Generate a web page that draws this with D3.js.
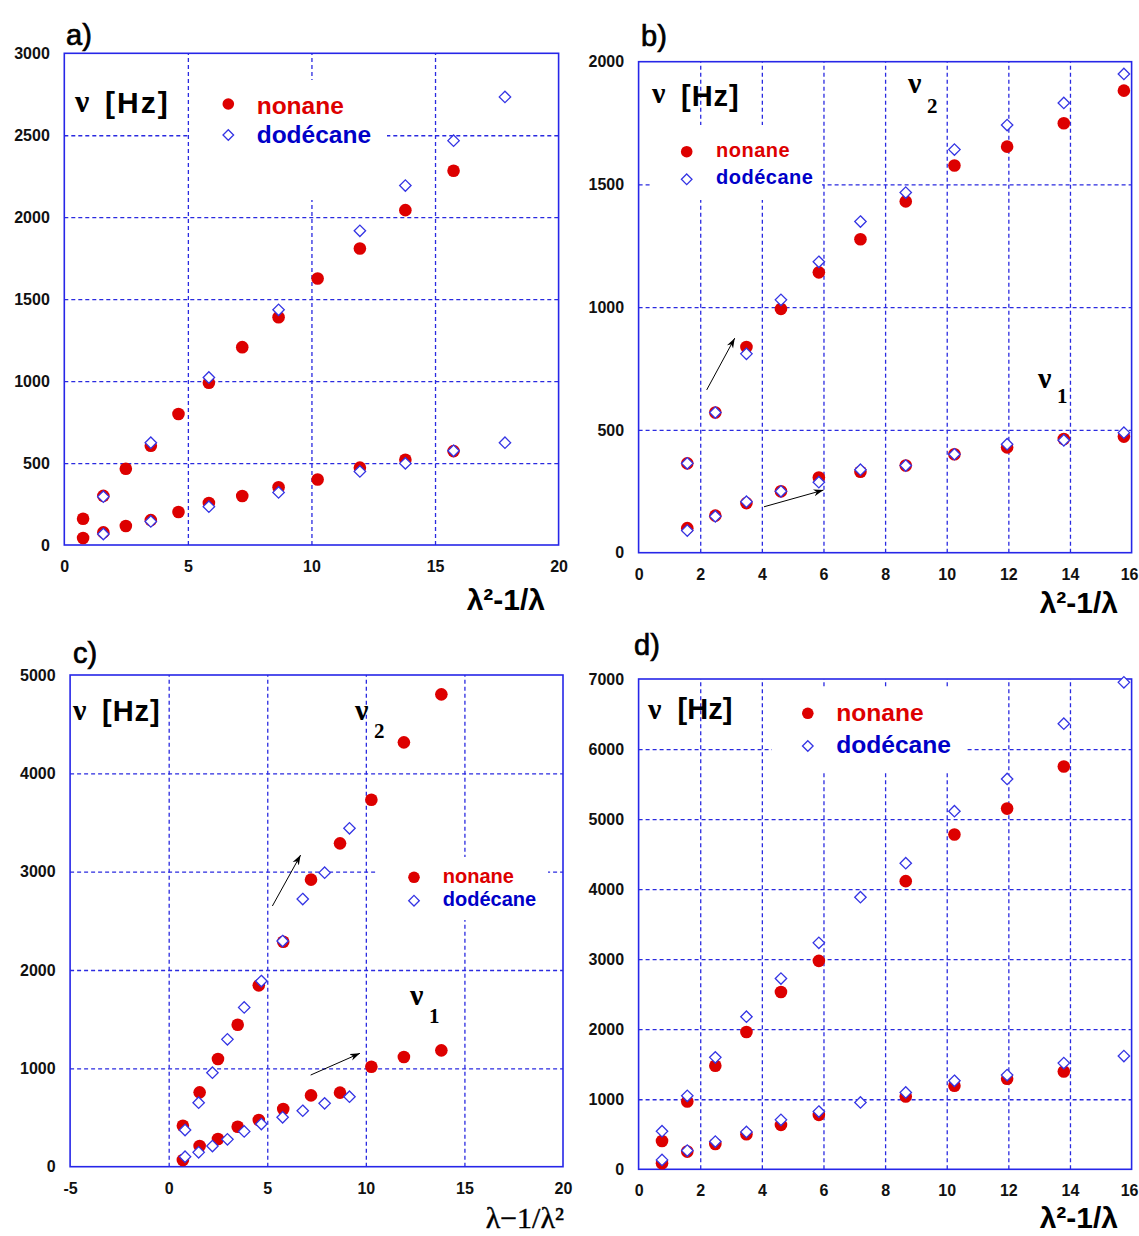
<!DOCTYPE html>
<html><head><meta charset="utf-8">
<script src="https://cdn.jsdelivr.net/npm/d3@7"></script>
<style>body{margin:0;background:#fff} svg{display:block}</style>
</head><body>
<svg id="chart" width="1139" height="1236"></svg>
<script>
// ---------- DATA ----------
// panel a
const aXTicks = [0, 5, 10, 15, 20];
const aYTicks = [0, 500, 1000, 1500, 2000, 2500, 3000];
const aNonaneX = [0.76, 1.58, 2.49, 3.5, 4.62, 5.85, 7.2, 8.67, 10.25, 11.96, 13.8, 15.75];
const aNonaneHigh = [160, 300, 465, 606, 799, 990, 1207, 1390, 1626, 1809, 2043, 2283];
const aNonaneLow = [43, 77, 116, 152, 201, 256, 299, 352, 400, 472, 520, 573];
const aDodecaneX = [1.58, 3.5, 5.85, 8.67, 11.96, 13.8, 15.75, 17.83];
const aDodecaneHigh = [295, 624, 1022, 1435, 1917, 2193, 2467, 2734];
const aDodecaneLow = [67, 144, 234, 321, 449, 498, 575, 624];

// panel b
const bXTicks = [0, 2, 4, 6, 8, 10, 12, 14, 16];
const bYTicks = [0, 500, 1000, 1500, 2000];
const bX = [1.58, 2.49, 3.5, 4.62, 5.85, 7.2, 8.67, 10.25, 11.96, 13.8, 15.75];
const bNonaneHigh = [364, 571, 838, 993, 1142, 1277, 1431, 1577, 1654, 1749, 1882];
const bNonaneLow = [100, 151, 202, 250, 306, 330, 355, 401, 429, 463, 473];
const bDodecaneHigh = [364, 571, 810, 1030, 1185, 1349, 1467, 1642, 1742, 1832, 1950];
const bDodecaneLow = [90, 148, 208, 250, 287, 338, 355, 401, 442, 458, 489];
const bArrows = [[2.21, 663, 3.12, 874], [4.07, 187, 6.0, 255]];

// panel c
const cXTicks = [-5, 0, 5, 10, 15, 20];
const cYTicks = [0, 1000, 2000, 3000, 4000, 5000];
const cNonaneX = [0.72, 1.57, 2.5, 3.5, 4.57, 5.81, 7.22, 8.69, 10.28, 11.93, 13.83];
const cNonaneHigh = [417, 756, 1095, 1444, 1844, 2288, 2919, 3288, 3732, 4315, 4803];
const cNonaneLow = [68, 210, 281, 407, 475, 586, 725, 753, 1017, 1115, 1183];
const cDodecaneX = [0.83, 1.52, 2.22, 2.98, 3.83, 4.7, 5.78, 6.8, 7.91, 9.17];
const cDodecaneHigh = [373, 651, 956, 1295, 1620, 1888, 2295, 2722, 2990, 3441];
const cDodecaneLow = [102, 146, 210, 278, 359, 434, 502, 569, 644, 712];
const cArrows = [[5.26, 2651, 6.69, 3169], [7.2, 932, 9.7, 1153]];

// panel d
const dXTicks = [0, 2, 4, 6, 8, 10, 12, 14, 16];
const dYTicks = [0, 1000, 2000, 3000, 4000, 5000, 6000, 7000];
const dNonaneX = [0.76, 1.58, 2.49, 3.5, 4.62, 5.85, 8.67, 10.25, 11.96, 13.8];
const dNonaneHigh = [405, 968, 1478, 1960, 2532, 2976, 4114, 4779, 5150, 5751];
const dNonaneLow = [86, 253, 362, 501, 634, 777, 1040, 1192, 1292, 1397];
const dDodecaneX = [0.76, 1.58, 2.49, 3.5, 4.62, 5.85, 7.2, 8.67, 10.25, 11.96, 13.8, 15.75];
const dDodecaneHigh = [544, 1049, 1598, 2179, 2723, 3233, 3885, 4370, 5113, 5573, 6362, 6952];
const dDodecaneLow = [134, 267, 396, 534, 706, 825, 954, 1097, 1264, 1345, 1516, 1617];

const seriesNames = ["nonane", "dodécane"];

// ---------- STYLE ----------
const RED = "#dd0000", LEGBLUE = "#0000c8", DIAM = "#3434e4", GRID = "#2a2ae0", FRAME = "#2626e8";
const SANS = "'Liberation Sans', Arial, sans-serif";
const SERIF = "'Liberation Serif', 'Times New Roman', serif";
const PAGE_W = 1139;

const svg = d3.select("#chart");
svg.append("defs").append("marker")
  .attr("id", "arrow").attr("markerUnits", "userSpaceOnUse")
  .attr("markerWidth", 12).attr("markerHeight", 10)
  .attr("refX", 10).attr("refY", 4).attr("orient", "auto")
  .append("path").attr("d", "M0,0.5 L10,4 L0,7.5 L3,4 Z").attr("fill", "#000");

function zip(xs, ys) { return xs.map((x, i) => [x, ys[i]]); }
function diamondPath(h) { return `M0,${-h}L${h},0L0,${h}L${-h},0Z`; }

function panel(cfg) {
  const g = svg.append("g");
  const x = d3.scaleLinear().domain(cfg.xDomain).range([cfg.left, cfg.right]);
  const y = d3.scaleLinear().domain(cfg.yDomain).range([cfg.bottom, cfg.top]);
  const W = cfg.right - cfg.left, H = cfg.bottom - cfg.top;
  const inner = (t, dom) => t > dom[0] && t < dom[1];

  // grid
  const gx = g.append("g").attr("transform", `translate(0,${cfg.bottom})`)
    .call(d3.axisBottom(x).tickValues(cfg.xTicks.filter(t => inner(t, cfg.xDomain))).tickSize(-H).tickFormat(""));
  const gy = g.append("g").attr("transform", `translate(${cfg.left},0)`)
    .call(d3.axisLeft(y).tickValues(cfg.yTicks.filter(t => inner(t, cfg.yDomain))).tickSize(-W).tickFormat(""));
  [gx, gy].forEach(a => {
    a.select(".domain").remove();
    a.selectAll("line").attr("stroke", GRID).attr("stroke-width", 1.3).attr("stroke-dasharray", "4,3");
  });

  // legend background (white box that hides grid)
  if (cfg.legendBg) {
    const b = cfg.legendBg;
    g.append("rect").attr("x", b[0]).attr("y", b[1]).attr("width", b[2] - b[0]).attr("height", b[3] - b[1]).attr("fill", "#fff");
  }

  // axes labels
  const ax = g.append("g").attr("transform", `translate(0,${cfg.bottom})`)
    .call(d3.axisBottom(x).tickValues(cfg.xTicks).tickSize(0).tickPadding(15.5).tickFormat(d => String(d)));
  const ay = g.append("g").attr("transform", `translate(${cfg.left},0)`)
    .call(d3.axisLeft(y).tickValues(cfg.yTicks).tickSize(0).tickPadding(14.5).tickFormat(d => String(d)));
  [ax, ay].forEach(a => {
    a.select(".domain").remove();
    a.attr("font-family", SANS).attr("font-size", 16).attr("font-weight", "bold");
    a.selectAll("text").attr("fill", "#111");
  });
  // keep the last x label inside the page
  ax.selectAll(".tick").filter(d => x(d) + 10 > PAGE_W).select("text")
    .attr("text-anchor", "end").attr("x", PAGE_W - 1 - cfg.right);

  // frame
  g.append("rect").attr("x", cfg.left).attr("y", cfg.top).attr("width", W).attr("height", H)
    .attr("fill", "none").attr("stroke", FRAME).attr("stroke-width", 1.6);

  // points
  cfg.circles.forEach(s => {
    g.append("g").selectAll("circle").data(s).join("circle")
      .attr("cx", d => x(d[0])).attr("cy", d => y(d[1])).attr("r", 6.3).attr("fill", RED);
  });
  cfg.diamonds.forEach(s => {
    g.append("g").selectAll("path").data(s).join("path")
      .attr("transform", d => `translate(${x(d[0])},${y(d[1])})`)
      .attr("d", diamondPath(5.7)).attr("fill", "#fff").attr("stroke", DIAM).attr("stroke-width", 1.3);
  });

  // arrows
  (cfg.arrows || []).forEach(a => {
    g.append("line").attr("x1", x(a[0])).attr("y1", y(a[1])).attr("x2", x(a[2])).attr("y2", y(a[3]))
      .attr("stroke", "#000").attr("stroke-width", 1).attr("marker-end", "url(#arrow)");
  });

  // panel letter
  g.append("text").attr("x", cfg.letter[1]).attr("y", cfg.letter[2]).text(cfg.letter[0])
    .attr("font-family", SANS).attr("font-size", 29).attr("fill", "#000")
    .attr("stroke", "#000").attr("stroke-width", 0.7);

  // nu [Hz]
  const h = cfg.hz;
  g.append("text").attr("x", h.nx).attr("y", h.ny).text("ν")
    .attr("font-family", SERIF).attr("font-weight", "bold").attr("font-size", h.nfs).attr("fill", "#000");
  g.append("text").attr("x", h.hx).attr("y", h.hy).text("[Hz]")
    .attr("font-family", SANS).attr("font-weight", "bold").attr("font-size", h.hfs)
    .attr("letter-spacing", h.ls).attr("fill", "#000");

  // nu labels with subscripts
  (cfg.nuLabels || []).forEach(n => {
    g.append("text").attr("x", n.x).attr("y", n.y).text("ν")
      .attr("font-family", SERIF).attr("font-weight", "bold").attr("font-size", 30).attr("fill", "#000");
    g.append("text").attr("x", n.sx).attr("y", n.sy).text(n.sub)
      .attr("font-family", SERIF).attr("font-weight", "bold").attr("font-size", 21).attr("fill", "#000");
  });

  // legend
  const L = cfg.legend;
  g.append("circle").attr("cx", L.mx).attr("cy", L.y1).attr("r", 5.8).attr("fill", RED);
  g.append("path").attr("transform", `translate(${L.mx},${L.y2})`).attr("d", diamondPath(5.3))
    .attr("fill", "#fff").attr("stroke", DIAM).attr("stroke-width", 1.3);
  g.append("text").attr("x", L.tx).attr("y", L.b1).text(seriesNames[0])
    .attr("font-family", SANS).attr("font-weight", "bold").attr("font-size", L.fs)
    .attr("letter-spacing", L.ls).attr("fill", RED);
  g.append("text").attr("x", L.tx).attr("y", L.b2).text(seriesNames[1])
    .attr("font-family", SANS).attr("font-weight", "bold").attr("font-size", L.fs)
    .attr("letter-spacing", L.ls).attr("fill", LEGBLUE);

  // x axis title
  const t = cfg.xTitle;
  g.append("text").attr("x", t.x).attr("y", t.y).attr("text-anchor", "end").text(t.text)
    .attr("font-family", t.serif ? SERIF : SANS).attr("font-weight", t.serif ? "normal" : "bold")
    .attr("font-size", t.fs).attr("fill", "#000")
    .attr("stroke", t.serif ? "#000" : "none").attr("stroke-width", t.serif ? 0.4 : 0);
}

panel({
  left: 64.3, right: 558.6, top: 53.3, bottom: 545,
  xDomain: [0, 20], yDomain: [0, 3000], xTicks: aXTicks, yTicks: aYTicks,
  legendBg: [190, 80, 387, 200],
  circles: [zip(aNonaneX, aNonaneHigh), zip(aNonaneX, aNonaneLow)],
  diamonds: [zip(aDodecaneX, aDodecaneHigh), zip(aDodecaneX, aDodecaneLow)],
  letter: ["a)", 66, 45],
  hz: { nx: 75, ny: 112, nfs: 32, hx: 105, hy: 113, hfs: 30, ls: 2 },
  legend: { mx: 228.3, y1: 104, y2: 135, tx: 256.7, b1: 114, b2: 143, fs: 24.5, ls: 0 },
  xTitle: { text: "λ²-1/λ", x: 545, y: 610, fs: 30 }
});

panel({
  left: 638.6, right: 1131.6, top: 61.7, bottom: 552.7,
  xDomain: [0, 16], yDomain: [0, 2000], xTicks: bXTicks, yTicks: bYTicks,
  legendBg: [650, 125, 822, 200],
  circles: [zip(bX, bNonaneHigh), zip(bX, bNonaneLow)],
  diamonds: [zip(bX, bDodecaneHigh), zip(bX, bDodecaneLow)],
  arrows: bArrows,
  letter: ["b)", 641, 46],
  hz: { nx: 652, ny: 103, nfs: 30, hx: 681, hy: 106, hfs: 29, ls: 1 },
  nuLabels: [{ x: 908, y: 93, sx: 927, sy: 113, sub: "2" }, { x: 1038, y: 388, sx: 1057, sy: 403, sub: "1" }],
  legend: { mx: 686.7, y1: 151.7, y2: 179.3, tx: 716, b1: 157.3, b2: 184.3, fs: 20, ls: 0.5 },
  xTitle: { text: "λ²-1/λ", x: 1118, y: 613, fs: 30 }
});

panel({
  left: 70.1, right: 563, top: 675, bottom: 1166.7,
  xDomain: [-5, 20], yDomain: [0, 5000], xTicks: cXTicks, yTicks: cYTicks,
  legendBg: [378, 857, 548, 920],
  circles: [zip(cNonaneX, cNonaneHigh), zip(cNonaneX, cNonaneLow)],
  diamonds: [zip(cDodecaneX, cDodecaneHigh), zip(cDodecaneX, cDodecaneLow)],
  arrows: cArrows,
  letter: ["c)", 73, 663],
  hz: { nx: 73, ny: 720, nfs: 30, hx: 102, hy: 721, hfs: 29, ls: 1 },
  nuLabels: [{ x: 355, y: 720, sx: 374, sy: 738, sub: "2" }, { x: 410, y: 1005, sx: 429, sy: 1023, sub: "1" }],
  legend: { mx: 414, y1: 877.3, y2: 900.7, tx: 442.8, b1: 883, b2: 906, fs: 20, ls: 0 },
  xTitle: { text: "λ−1/λ²", x: 564, y: 1228, fs: 30, serif: true }
});

panel({
  left: 638.6, right: 1131.6, top: 679, bottom: 1169.3,
  xDomain: [0, 16], yDomain: [0, 7000], xTicks: dXTicks, yTicks: dYTicks,
  legendBg: [772, 687, 967, 772],
  circles: [zip(dNonaneX, dNonaneHigh), zip(dNonaneX, dNonaneLow)],
  diamonds: [zip(dDodecaneX, dDodecaneHigh), zip(dDodecaneX, dDodecaneLow)],
  letter: ["d)", 634, 655],
  hz: { nx: 648, ny: 719, nfs: 30, hx: 677.6, hy: 719, hfs: 29, ls: 0 },
  legend: { mx: 807.8, y1: 713.3, y2: 746, tx: 836.2, b1: 721, b2: 753, fs: 24.6, ls: 0 },
  xTitle: { text: "λ²-1/λ", x: 1118, y: 1228, fs: 30 }
});
</script></body></html>
